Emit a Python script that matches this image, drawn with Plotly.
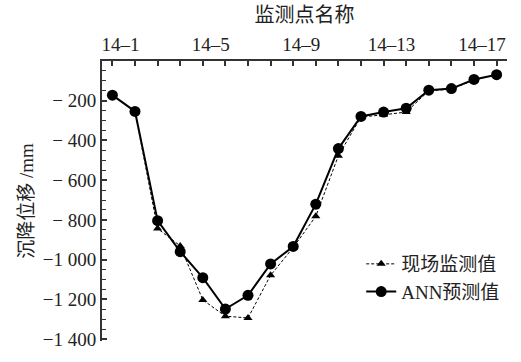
import plotly.graph_objects as go

points = ["14-1", "14-2", "14-3", "14-4", "14-5", "14-6", "14-7", "14-8", "14-9",
          "14-10", "14-11", "14-12", "14-13", "14-14", "14-15", "14-16", "14-17", "14-18"]
shown_labels = {"14-1": "14–1", "14-5": "14–5", "14-9": "14–9", "14-13": "14–13", "14-17": "14–17"}

field = [-172, -254, -844, -931, -1203, -1285, -1294, -1079, -939, -782,
         -477, -282, -271, -257, -150, -142, -96, -69]
ann = [-172, -254, -804, -960, -1091, -1249, -1180, -1022, -934, -721,
       -441, -279, -257, -238, -147, -139, -93, -69]

y_tickvals = [-200, -400, -600, -800, -1000, -1200, -1400]
y_ticktext = ["− 200", "− 400", "− 600", "− 800", "−1 000", "−1 200", "−1 400"]

FONT = "Liberation Serif, Noto Sans CJK SC"

fig = go.Figure()
fig.add_trace(go.Scatter(
    x=points, y=field, name="现场监测值", mode="lines+markers",
    line=dict(color="black", width=1, dash="3px,2px"),
    marker=dict(symbol="triangle-up", size=8, color="black"),
))
fig.add_trace(go.Scatter(
    x=points, y=ann, name="ANN预测值", mode="lines+markers",
    line=dict(color="black", width=2),
    marker=dict(symbol="circle", size=11, color="black"),
))

fig.update_layout(
    width=521, height=362,
    margin=dict(l=102, r=14, t=61, b=17),
    paper_bgcolor="white", plot_bgcolor="white",
    font=dict(family=FONT, size=19, color="#222"),
    showlegend=True,
    legend=dict(x=0.64, y=0.225, xanchor="left", yanchor="middle",
                bgcolor="rgba(0,0,0,0)", font=dict(size=19, family=FONT),
                itemwidth=30, tracegroupgap=0),
)
fig.update_xaxes(
    type="category", side="top", range=[-0.46, 17.46],
    tickmode="array", tickvals=points,
    ticktext=[shown_labels.get(p, "") for p in points],
    ticks="inside", ticklen=5, tickwidth=1.5, tickcolor="#333",
    showline=True, linecolor="#333", linewidth=2, mirror=False,
    showgrid=False, zeroline=False,
    ticklabelshift=8,
    title=dict(text="监测点名称", font=dict(size=20, family=FONT), standoff=6),
)
fig.update_yaxes(
    range=[-1410, 0],
    tickmode="array", tickvals=y_tickvals, ticktext=y_ticktext,
    ticks="inside", ticklen=5, tickwidth=1.5, tickcolor="#333",
    minor=dict(dtick=50, tick0=0, ticks="inside", ticklen=4, tickcolor="#333", tickwidth=1.2, showgrid=False),
    showline=True, linecolor="#333", linewidth=2,
    showgrid=False, zeroline=False,
    title=dict(text="沉降位移 /mm", font=dict(size=19, family=FONT), standoff=4),
)

fig.write_html("out.html")
